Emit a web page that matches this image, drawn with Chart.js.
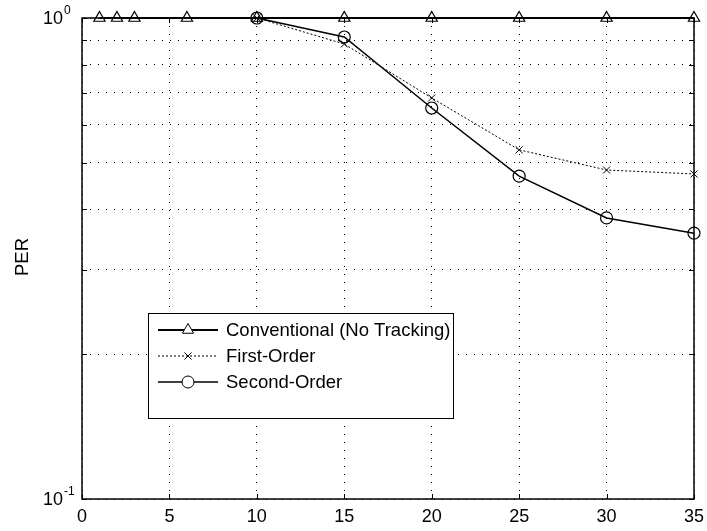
<!DOCTYPE html>
<html>
<head>
<meta charset="utf-8">
<script src="https://cdn.jsdelivr.net/npm/chart.js@4"></script>
<style>
  html, body { margin: 0; padding: 0; background: #fff; }
  #wrap { width: 707px; height: 531px; }
</style>
</head>
<body>
<div id="wrap"><canvas id="perChart" width="707" height="531"></canvas></div>
<script>
// SNR points and packet error rates for each tracking scheme
const snrConventional = [1, 2, 3, 6, 10, 15, 20, 25, 30, 35];
const perConventional = [1, 1, 1, 1, 1, 1, 1, 1, 1, 1];
const snrTracking = [10, 15, 20, 25, 30, 35];
const perFirstOrder = [1, 0.883, 0.682, 0.532, 0.483, 0.474];
const perSecondOrder = [1, 0.913, 0.650, 0.469, 0.384, 0.357];

const seriesNames = ['Conventional (No Tracking)', 'First-Order', 'Second-Order'];
const yTickValues = [0.1, 0.2, 0.3, 0.4, 0.5, 0.6, 0.7, 0.8, 0.9, 1];
const yTickLabels = { '0.1': '-1', '1': '0' };
const xLabel = '';
const yLabel = 'PER';

const FONT = '"Liberation Sans", Arial, Helvetica, sans-serif';

function toPoints(xs, ys) {
    return xs.map((x, k) => ({ x: x, y: ys[k] }));
}

// axes box, inner tick marks, y labels with exponents, axis title, legend
const matlabFrame = {
    id: 'matlabFrame',
    afterDraw(chart) {
        const ctx = chart.ctx;
        const a = chart.chartArea;
        const xs = chart.scales.x;
        const ys = chart.scales.y;
        ctx.save();
        ctx.strokeStyle = '#000';
        ctx.lineWidth = 1;
        ctx.setLineDash([]);
        ctx.beginPath();
        xs.ticks.forEach(t => {
            const px = Math.round(xs.getPixelForValue(t.value)) + 0.5;
            ctx.moveTo(px, a.bottom); ctx.lineTo(px, a.bottom - 5);
            ctx.moveTo(px, a.top); ctx.lineTo(px, a.top + 5);
        });
        ys.ticks.forEach(t => {
            const py = Math.round(ys.getPixelForValue(t.value)) + 0.5;
            ctx.moveTo(a.left, py); ctx.lineTo(a.left + 5, py);
            ctx.moveTo(a.right, py); ctx.lineTo(a.right - 5, py);
        });
        ctx.stroke();

        ctx.lineWidth = 1.5;
        ctx.strokeRect(a.left, a.top, a.right - a.left, a.bottom - a.top);

        // y tick labels: 10 with superscript exponent
        ctx.fillStyle = '#000';
        Object.keys(yTickLabels).forEach(v => {
            const py = ys.getPixelForValue(Number(v));
            ctx.font = '18px ' + FONT;
            ctx.textAlign = 'right';
            ctx.textBaseline = 'middle';
            ctx.fillText('10', 63, py + 1);
            ctx.font = '12px ' + FONT;
            ctx.textAlign = 'left';
            ctx.textBaseline = 'alphabetic';
            ctx.fillText(yTickLabels[v], 64, py - 4);
        });

        // y axis title
        ctx.save();
        ctx.translate(23, 257);
        ctx.rotate(-Math.PI / 2);
        ctx.font = '18.5px ' + FONT;
        ctx.textAlign = 'center';
        ctx.textBaseline = 'middle';
        ctx.fillText(yLabel, 0, 0);
        ctx.restore();

        // legend box
        const box = { left: 148, top: 313, right: 453, bottom: 418 };
        ctx.fillStyle = '#fff';
        ctx.fillRect(box.left, box.top, box.right - box.left, box.bottom - box.top);
        ctx.lineWidth = 1;
        ctx.strokeStyle = '#000';
        ctx.strokeRect(box.left + 0.5, box.top + 0.5, box.right - box.left, box.bottom - box.top);

        chart.data.datasets.forEach((ds, k) => {
            const rowY = box.top + 17 + k * 26;
            ctx.save();
            ctx.strokeStyle = ds.borderColor;
            ctx.lineWidth = ds.borderWidth;
            ctx.setLineDash(ds.borderDash || []);
            ctx.beginPath();
            ctx.moveTo(158, rowY);
            ctx.lineTo(218, rowY);
            ctx.stroke();
            ctx.setLineDash([]);
            ctx.lineWidth = 1;
            ctx.fillStyle = '#fff';
            Chart.helpers.drawPoint(ctx, {
                pointStyle: ds.pointStyle,
                radius: ds.pointRadius,
                rotation: 0,
                borderWidth: 1
            }, 188, rowY);
            ctx.restore();
            ctx.fillStyle = '#000';
            ctx.font = '18.5px ' + FONT;
            ctx.textAlign = 'left';
            ctx.textBaseline = 'middle';
            ctx.fillText(ds.label, 226, rowY + 1);
        });
        ctx.restore();
    }
};

const config = {
    type: 'line',
    data: {
        datasets: [
            {
                label: seriesNames[0],
                data: toPoints(snrConventional, perConventional),
                borderColor: '#000',
                borderWidth: 2,
                pointStyle: 'triangle',
                pointRadius: 6.5,
                pointBorderWidth: 1.2,
                pointBackgroundColor: 'rgba(255,255,255,0)',
                pointBorderColor: '#000',
                clip: false
            },
            {
                label: seriesNames[1],
                data: toPoints(snrTracking, perFirstOrder),
                borderColor: '#000',
                borderWidth: 1,
                borderDash: [2, 2],
                pointStyle: 'crossRot',
                pointRadius: 5,
                pointBorderWidth: 1,
                pointBorderColor: '#000',
                clip: false
            },
            {
                label: seriesNames[2],
                data: toPoints(snrTracking, perSecondOrder),
                borderColor: '#000',
                borderWidth: 1.5,
                pointStyle: 'circle',
                pointRadius: 6,
                pointBorderWidth: 1.2,
                pointBackgroundColor: 'rgba(255,255,255,0)',
                pointBorderColor: '#000',
                clip: false
            }
        ]
    },
    options: {
        responsive: false,
        animation: false,
        devicePixelRatio: 1,
        layout: { padding: { left: 0, top: 18, right: 13, bottom: 0 } },
        plugins: {
            legend: { display: false },
            tooltip: { enabled: false }
        },
        elements: { line: { tension: 0 } },
        scales: {
            x: {
                type: 'linear',
                min: 0,
                max: 35,
                ticks: {
                    stepSize: 5,
                    color: '#000',
                    padding: 7,
                    font: { family: FONT, size: 18 }
                },
                grid: { color: '#000', lineWidth: 1, drawTicks: false },
                border: { display: false, dash: [1, 7] },
                title: { display: xLabel !== '', text: xLabel },
                afterFit(scale) {
                    scale.height = 32;
                    scale.paddingLeft = 0;
                    scale.paddingRight = 0;
                }
            },
            y: {
                type: 'logarithmic',
                min: 0.1,
                max: 1,
                afterBuildTicks(scale) {
                    scale.ticks = yTickValues.map(v => ({ value: v }));
                },
                ticks: { display: false },
                grid: { color: '#000', lineWidth: 1, drawTicks: false },
                border: { display: false, dash: [1, 7] },
                afterFit(scale) { scale.width = 82; }
            }
        }
    },
    plugins: [matlabFrame]
};

new Chart(document.getElementById('perChart'), config);
</script>
</body>
</html>
